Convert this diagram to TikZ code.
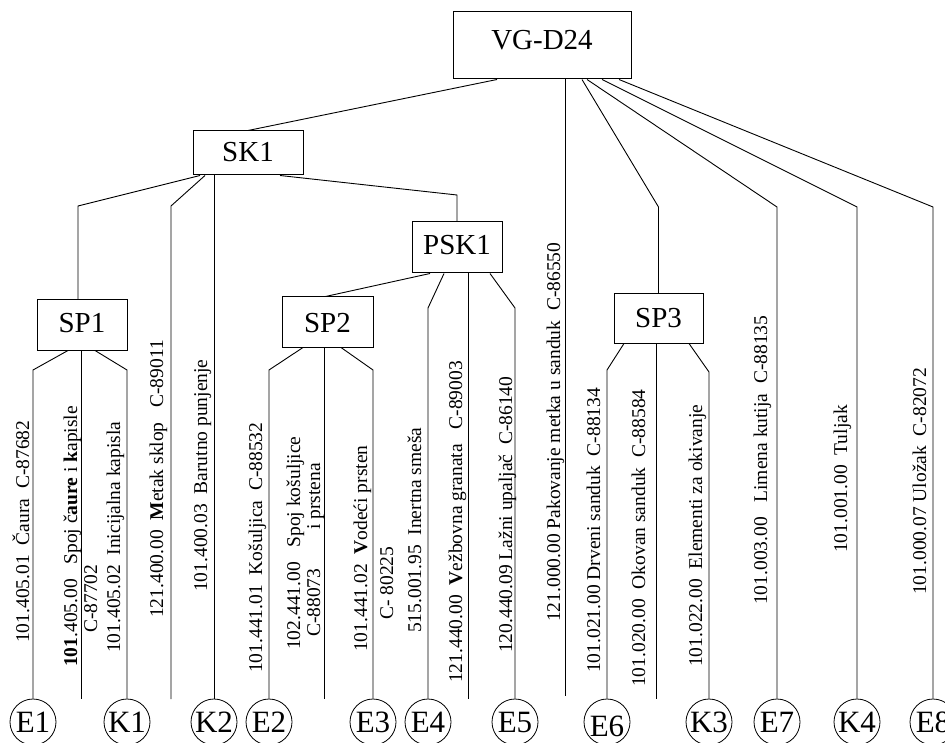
\documentclass[tikz,border=0pt]{standalone}
\usepackage{fontspec}
\setmainfont{Liberation Serif}
\begin{document}
\begin{tikzpicture}[x=1pt,y=-1pt,
  box/.style={draw, line width=1pt, inner sep=0pt, align=center, font=\fontsize{29}{29}\selectfont},
  leaf/.style={draw, circle, line width=0.8pt, inner sep=0pt, minimum size=46pt, font=\fontsize{31}{31}\selectfont},
  lab/.style={rotate=90, anchor=base west, inner sep=0pt, font=\fontsize{19.5}{19.5}\selectfont},
  conn/.style={line width=0.9pt}]
\useasboundingbox (0,0) rectangle (945,743);
\fill[white] (0,0) rectangle (945,743);
% boxes
\node[box, anchor=base, text width=178pt, text height=38pt, text depth=29pt] (VG) at (542,50) {VG-D24};
\node[box, anchor=base, text width=110pt, text height=31pt, text depth=13pt] (SK1) at (248,162) {SK1};
\node[box, anchor=base, text width=90pt, text height=33pt, text depth=18pt] (PSK1) at (457,255) {PSK1};
\node[box, anchor=base, text width=90pt, text height=33pt, text depth=17pt] (SP1) at (82,333) {SP1};
\node[box, anchor=base, text width=91pt, text height=35pt, text depth=15pt] (SP2) at (327.5,332) {SP2};
\node[box, anchor=base, text width=89pt, text height=33pt, text depth=16pt] (SP3) at (658.5,327) {SP3};
% leaves
\node[leaf] (E1) at (33,722) {E1};
\node[leaf] (K1) at (127,722) {K1};
\node[leaf] (K2) at (214,722) {K2};
\node[leaf] (E2) at (269,722) {E2};
\node[leaf] (E3) at (373,722) {E3};
\node[leaf] (E4) at (428,722) {E4};
\node[leaf] (E5) at (515,722) {E5};
\node[leaf] (E6) at (607,722) {\raisebox{-4pt}[\height][0pt]{E6}};
\node[leaf] (K3) at (709,722) {K3};
\node[leaf] (E7) at (777,722) {E7};
\node[leaf] (K4) at (857,722) {K4};
\node[leaf] (E8) at (933,722) {E8};
% helper coordinates
\coordinate (y195) at (0,195);
\coordinate (y206) at (0,206);
\coordinate (y207) at (0,207);
\coordinate (y308) at (0,308);
\coordinate (y370) at (0,370);
\coordinate (y372) at (0,372);
\coordinate (pakEnd) at (565,696);
\coordinate (mEnd) at (171,699);
\coordinate (psEnd) at (468,699);
\coordinate (sp1End) at (81,699);
\coordinate (sp2End) at (324,699);
\coordinate (sp3End) at (656,699);
% connectors from VG
\draw[conn] ([xshift=-45pt]VG.south) -- (SK1.north);
\draw[conn] ([xshift=23pt]VG.south) -- (pakEnd);
\draw[conn] ([xshift=40pt]VG.south) -- (SP3.north |- y207) -- (SP3.north);
\draw[conn] ([xshift=45pt]VG.south) -- (E7.north |- y207) -- (E7.north);
\draw[conn] ([xshift=60pt]VG.south) -- (K4.north |- y207) -- (K4.north);
\draw[conn] ([xshift=77pt]VG.south) -- (E8.north |- y207) -- (E8.north);
% connectors from SK1
\draw[conn] ([xshift=-48pt]SK1.south) -- ([xshift=-4pt]SP1.north |- y206) -- ([xshift=-4pt]SP1.north);
\draw[conn] ([xshift=-43pt]SK1.south) -- (mEnd |- y206) -- (mEnd);
\draw[conn] ([xshift=-34pt]SK1.south) -- (K2.north);
\draw[conn] ([xshift=32pt]SK1.south) -- (PSK1.north |- y195) -- (PSK1.north);
% connectors from PSK1
\draw[conn] ([xshift=-27pt]PSK1.south) -- ([xshift=-2pt]SP2.north);
\draw[conn] ([xshift=-13pt]PSK1.south) -- (E4.north |- y308) -- (E4.north);
\draw[conn] ([xshift=11pt]PSK1.south) -- (psEnd);
\draw[conn] ([xshift=33pt]PSK1.south) -- (E5.north |- y308) -- (E5.north);
% connectors from SP1
\draw[conn] ([xshift=-14pt]SP1.south) -- (E1.north |- y370) -- (E1.north);
\draw[conn] ([xshift=-1pt]SP1.south) -- (sp1End);
\draw[conn] ([xshift=13pt]SP1.south) -- (K1.north |- y370) -- (K1.north);
% connectors from SP2
\draw[conn] ([xshift=-24.5pt]SP2.south) -- (E2.north |- y370) -- (E2.north);
\draw[conn] ([xshift=-3.5pt]SP2.south) -- (sp2End);
\draw[conn] ([xshift=13.5pt]SP2.south) -- (E3.north |- y370) -- (E3.north);
% connectors from SP3
\draw[conn] ([xshift=-34.5pt]SP3.south) -- (E6.north |- y370) -- (E6.north);
\draw[conn] ([xshift=-2.5pt]SP3.south) -- (sp3End);
\draw[conn] ([xshift=30.5pt]SP3.south) -- (K3.north |- y372) -- (K3.north);
% labels
\node[lab] (t1) at (29,643) {101.405.01\ \ Čaura\ \ C-87682};
\node[lab] (t2a) at (77,667) {\textbf{101}.405.00\ \ \ Spoj č\textbf{aure} i \textbf{k}apisle};
\node[lab] (t2b) at (97,633) {C-87702};
\node[lab] (t3) at (120,653) {101.405.02\ \ Inicijalna kapisla};
\node[lab] (t4) at (163,618) {121.400.00\ \ \textbf{M}etak sklop\ \ \ C-89011};
\node[lab] (t5) at (207,592) {101.400.03\ \ Barutno punjenje};
\node[lab] (t6) at (262,673) {101.441.01\ \ Košuljica\ \ C-88532};
\node[lab] (t7a) at (300,650) {102.441.00\ \ \ Spoj košuljice};
\node[lab] (t7b) at (320,637) {C-88073};
\node[lab] (t7c) at (320,530) {i prstena};
\node[lab] (t8) at (367,652) {101.441.02\ \ \textbf{V}odeći prsten};
\node[lab] (t9) at (393,620) {C- 80225};
\node[lab] (t10) at (421,633) {515.001.95\ \ Inertna smeša};
\node[lab] (t11) at (462,683) {121.440.00\ \ \textbf{V}ežbovna granata\ \ \ C-89003};
\node[lab] (t12) at (512,653) {120.440.09 Lažni upaljač\ \ C-86140};
\node[lab] (t13) at (560,622) {121.000.00 Pakovanje metka u sanduk\ \ C-86550};
\node[lab] (t14) at (600,673) {101.021.00 Drveni sanduk\ \ C-88134};
\node[lab] (t15) at (645,687) {101.020.00\ \ Okovan sanduk\ \ C-88584};
\node[lab] (t16) at (702,667) {101.022.00\ \ Elementi za okivanje};
\node[lab] (t17) at (767,605) {101.003.00\ \ \ Limena kutija\ \ C-88135};
\node[lab] (t18) at (847,553) {101.001.00\ \ Tuljak};
\node[lab] (t19) at (926,595) {101.000.07 Uložak\ \ C-82072};
\end{tikzpicture}
\end{document}
